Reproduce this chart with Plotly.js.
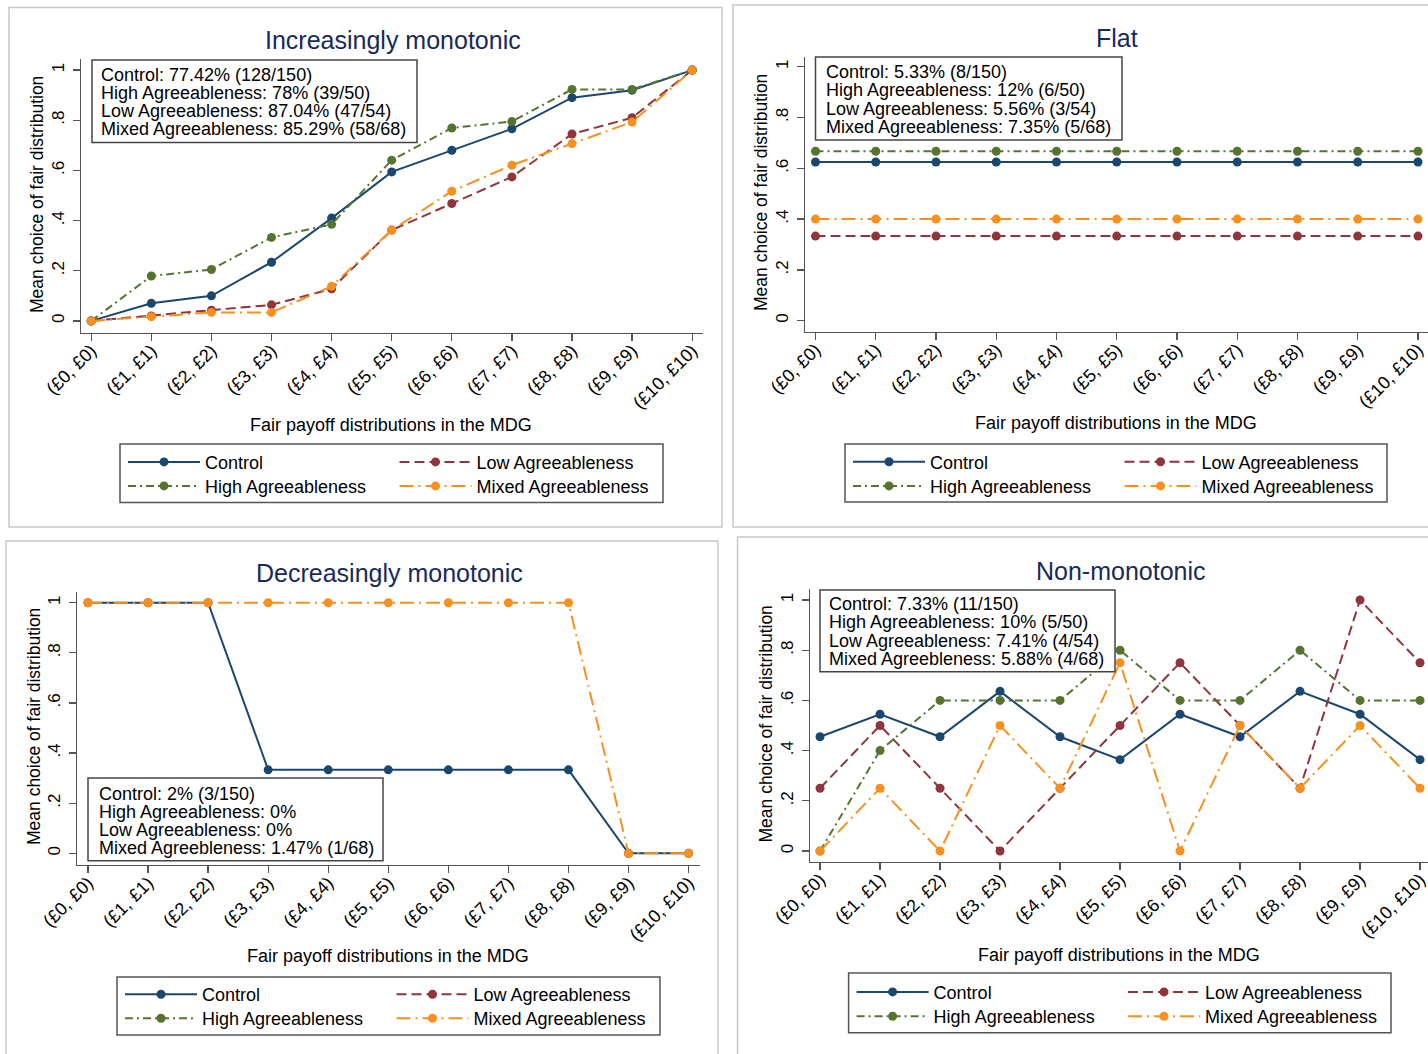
<!DOCTYPE html>
<html><head><meta charset="utf-8">
<script src="https://cdn.plot.ly/plotly-3.0.1.min.js"></script>
<style>html,body{margin:0;padding:0;background:#fff}#chart{width:1428px;height:1054px}</style>
</head><body><div id="chart"></div>
<script>
// ---------------- DATA ----------------
const categories = ['(£0, £0)','(£1, £1)','(£2, £2)','(£3, £3)','(£4, £4)','(£5, £5)',
  '(£6, £6)','(£7, £7)','(£8, £8)','(£9, £9)','(£10, £10)'];
const seriesNames = ['Control','Low Agreeableness','High Agreeableness','Mixed Agreeableness'];
const panelTitles = ['Increasingly monotonic','Flat','Decreasingly monotonic','Non-monotonic'];
const xAxisTitle = 'Fair payoff distributions in the MDG';
const yAxisTitle = 'Mean choice of fair distribution';
const yTickVals = [0, 0.2, 0.4, 0.6, 0.8, 1];
const yTickText = ['0', '.2', '.4', '.6', '.8', '1'];

// Increasingly monotonic
const incControl = [0, 0.07, 0.10, 0.234, 0.41, 0.594, 0.68, 0.766, 0.89, 0.92, 1];
const incLow     = [0, 0.02, 0.043, 0.064, 0.128, 0.362, 0.468, 0.574, 0.745, 0.81, 1];
const incHigh    = [0, 0.179, 0.205, 0.333, 0.385, 0.641, 0.769, 0.795, 0.923, 0.923, 1];
const incMixed   = [0, 0.017, 0.034, 0.034, 0.138, 0.362, 0.517, 0.621, 0.707, 0.793, 1];
// Flat
const flatControl = [0.625, 0.625, 0.625, 0.625, 0.625, 0.625, 0.625, 0.625, 0.625, 0.625, 0.625];
const flatLow     = [0.333, 0.333, 0.333, 0.333, 0.333, 0.333, 0.333, 0.333, 0.333, 0.333, 0.333];
const flatHigh    = [0.667, 0.667, 0.667, 0.667, 0.667, 0.667, 0.667, 0.667, 0.667, 0.667, 0.667];
const flatMixed   = [0.4, 0.4, 0.4, 0.4, 0.4, 0.4, 0.4, 0.4, 0.4, 0.4, 0.4];
// Decreasingly monotonic (no High / Low observations)
const decControl = [1, 1, 1, 0.333, 0.333, 0.333, 0.333, 0.333, 0.333, 0, 0];
const decLow     = [null, null, null, null, null, null, null, null, null, null, null];
const decHigh    = [null, null, null, null, null, null, null, null, null, null, null];
const decMixed   = [1, 1, 1, 1, 1, 1, 1, 1, 1, 0, 0];
// Non-monotonic
const nonControl = [0.455, 0.545, 0.455, 0.636, 0.455, 0.364, 0.545, 0.455, 0.636, 0.545, 0.364];
const nonLow     = [0.25, 0.5, 0.25, 0, 0.25, 0.5, 0.75, 0.5, 0.25, 1, 0.75];
const nonHigh    = [0, 0.4, 0.6, 0.6, 0.6, 0.8, 0.6, 0.6, 0.8, 0.6, 0.6];
const nonMixed   = [0, 0.25, 0, 0.5, 0.25, 0.75, 0, 0.5, 0.25, 0.5, 0.25];

const statsInc  = ['Control: 77.42% (128/150)','High Agreeableness: 78% (39/50)',
  'Low Agreeableness: 87.04% (47/54)','Mixed Agreeableness: 85.29% (58/68)'];
const statsFlat = ['Control: 5.33% (8/150)','High Agreeableness: 12% (6/50)',
  'Low Agreeableness: 5.56% (3/54)','Mixed Agreeableness: 7.35% (5/68)'];
const statsDec  = ['Control: 2% (3/150)','High Agreeableness: 0%',
  'Low Agreeableness: 0%','Mixed Agreebleness: 1.47% (1/68)'];
const statsNon  = ['Control: 7.33% (11/150)','High Agreeableness: 10% (5/50)',
  'Low Agreeableness: 7.41% (4/54)','Mixed Agreebleness: 5.88% (4/68)'];

const panelSeries = [
  [incControl, incLow, incHigh, incMixed],
  [flatControl, flatLow, flatHigh, flatMixed],
  [decControl, decLow, decHigh, decMixed],
  [nonControl, nonLow, nonHigh, nonMixed]
];
const panelStats = [statsInc, statsFlat, statsDec, statsNon];

// ---------------- STYLE / LAYOUT ----------------
const W = 1428, H = 1054;
const FONT = '"Liberation Sans", Arial, sans-serif';
const colors = ['#1a476f', '#90353b', '#55752f', '#f7901e'];
const dashes = ['solid', '10px,5px', '8px,4px,2px,4px', '14px,5px,2px,5px'];
const titleColor = '#172a5a';
const axisColor = '#555555';
// legend slot of each series: [column, row]
const legendSlot = [[0, 0], [1, 0], [0, 1], [1, 1]];

// pixel geometry of each panel
const geo = [
  {plot:[81,703,59.3,332.7], xr:[-0.17,10.18], yr:[-0.047,1.043], title:[393,40],
   stat:[92,417,60,142.5], statY:[75,93,111,129], statX:100,
   xt:[391,424.5], yt:[37,195],
   leg:[120,663,444,502.5], legRows:[461.7,485.7], legX:[123,394.5], frame:[9,722,7.5,527]},
  {plot:[805,1428,56.7,331.7], xr:[-0.174,10.166], yr:[-0.0434,1.0395], title:[1117,38],
   stat:[815.5,1122,57,140], statY:[71.7,90.2,108.7,126.7], statX:824.6,
   xt:[1116,423], yt:[761,193],
   leg:[845,1387,444,502], legRows:[461.5,485.7], legX:[848,1119.5], frame:[733,1440,5,527]},
  {plot:[77,700,591.7,865], xr:[-0.183,10.19], yr:[-0.0467,1.0439], title:[390,573],
   stat:[88,383,778,860.7], statY:[793.5,811.5,829.5,847.5], statX:97.6,
   xt:[388,956], yt:[34,727],
   leg:[117,660,977,1035], legRows:[994,1018], legX:[120,391.5], frame:[6,718,541,1070]},
  {plot:[810,1428,589.3,861.7], xr:[-0.167,10.133], yr:[-0.0426,1.0426], title:[1120.5,571],
   stat:[820,1115,590,671.7], statY:[604.3,622.4,640.5,658.6], statX:828,
   xt:[1119,955], yt:[765,724.5],
   leg:[848.6,1391,973,1032.7], legRows:[991.7,1016], legX:[851.6,1123], frame:[737.5,1440,537,1070]}
];

const px = x => x / W;
const py = y => 1 - y / H;

const traces = [];
const layout = {
  width: W, height: H,
  margin: {l:0, r:0, t:0, b:0},
  paper_bgcolor: '#ffffff', plot_bgcolor: '#ffffff',
  font: {family: FONT, size: 18, color: '#000'},
  showlegend: true,
  annotations: [], shapes: []
};

let legendCount = 0;
geo.forEach((g, i) => {
  const n = i + 1;
  const xa = 'xaxis' + (n === 1 ? '' : n), ya = 'yaxis' + (n === 1 ? '' : n);
  const xs = 'x' + (n === 1 ? '' : n), ys = 'y' + (n === 1 ? '' : n);

  panelSeries[i].forEach((vals, s) => {
    legendCount += 1;
    const lk = 'legend' + (legendCount === 1 ? '' : legendCount);
    const slot = legendSlot[s];
    layout[lk] = {
      x: px(g.legX[slot[0]]), y: py(g.legRows[slot[1]] - 18), xref: 'paper', yref: 'paper',
      xanchor: 'left', yanchor: 'top', orientation: 'v',
      bgcolor: 'rgba(0,0,0,0)', borderwidth: 0,
      font: {size: 18, color: '#000'}, itemwidth: 72,
      itemclick: false, itemdoubleclick: false
    };
    traces.push({
      type: 'scatter', mode: 'lines+markers',
      x: categories, y: vals, name: seriesNames[s],
      xaxis: xs, yaxis: ys, legend: lk,
      line: {color: colors[s], width: 2, dash: dashes[s]},
      marker: {color: colors[s], size: 9, symbol: 'circle'},
      cliponaxis: false,
      hoverinfo: 'skip'
    });
  });

  layout[xa] = {
    domain: [px(g.plot[0]), px(g.plot[1])],
    anchor: ys, type: 'category', range: g.xr,
    showline: true, linecolor: axisColor, linewidth: 1.3,
    ticks: 'outside', ticklen: 7, tickcolor: axisColor, tickwidth: 1.3,
    tickangle: -45, tickfont: {size: 18, color: '#000'},
    ticklabelstandoff: -8,
    showgrid: false, zeroline: false, fixedrange: true
  };
  layout[ya] = {
    domain: [py(g.plot[3]), py(g.plot[2])],
    anchor: xs, range: g.yr,
    tickvals: yTickVals, ticktext: yTickText,
    showline: true, linecolor: axisColor, linewidth: 1.3,
    ticks: 'outside', ticklen: 7, tickcolor: axisColor, tickwidth: 1.3,
    tickangle: -90, tickfont: {size: 17, color: '#000'},
    ticklabelstandoff: 2,
    showgrid: false, zeroline: false, fixedrange: true
  };

  // axis titles
  layout.annotations.push({
    xref: 'paper', yref: 'paper', x: px(g.xt[0]), y: py(g.xt[1]),
    xanchor: 'center', yanchor: 'middle', showarrow: false,
    text: xAxisTitle, font: {size: 18, color: '#000'}
  });
  layout.annotations.push({
    xref: 'paper', yref: 'paper', x: px(g.yt[0]), y: py(g.yt[1]),
    xanchor: 'center', yanchor: 'middle', showarrow: false, textangle: -90,
    text: yAxisTitle, font: {size: 17.5, color: '#000'}
  });
  // panel title
  layout.annotations.push({
    xref: 'paper', yref: 'paper', x: px(g.title[0]), y: py(g.title[1]),
    xanchor: 'center', yanchor: 'middle', showarrow: false,
    text: panelTitles[i], font: {size: 25, color: titleColor}
  });
  // stats box
  layout.shapes.push({
    type: 'rect', xref: 'paper', yref: 'paper',
    x0: px(g.stat[0]), x1: px(g.stat[1]), y0: py(g.stat[3]), y1: py(g.stat[2]),
    line: {color: '#444', width: 1.5}, fillcolor: '#ffffff', layer: 'above'
  });
  panelStats[i].forEach((t, k) => {
    layout.annotations.push({
      xref: 'paper', yref: 'paper', x: px(g.statX), y: py(g.statY[k]),
      xanchor: 'left', yanchor: 'middle', showarrow: false, borderpad: 0,
      text: t, font: {size: 18, color: '#000'}
    });
  });
  // legend frame
  layout.shapes.push({
    type: 'rect', xref: 'paper', yref: 'paper',
    x0: px(g.leg[0]), x1: px(g.leg[1]), y0: py(g.leg[3]), y1: py(g.leg[2]),
    line: {color: '#555', width: 1.5}, fillcolor: 'rgba(0,0,0,0)', layer: 'above'
  });
  // outer panel frame
  layout.shapes.push({
    type: 'rect', xref: 'paper', yref: 'paper',
    x0: px(g.frame[0]), x1: px(g.frame[1]), y0: py(g.frame[3]), y1: py(g.frame[2]),
    line: {color: '#c8c8c8', width: 1.5}, fillcolor: 'rgba(0,0,0,0)', layer: 'below'
  });
});

Plotly.newPlot('chart', traces, layout, {displayModeBar: false, staticPlot: true});
</script>
</body></html>
